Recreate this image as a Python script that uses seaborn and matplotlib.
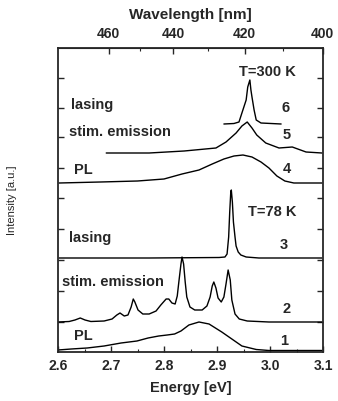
import numpy as np
import pandas as pd
import seaborn as sns
import matplotlib
matplotlib.use("Agg")
import matplotlib.pyplot as plt

# Photon energy (eV) and intensity (a.u., curves stacked with offsets)
pl78_E = [2.600, 2.625, 2.655, 2.687, 2.719, 2.749, 2.770, 2.790, 2.806, 2.820,
          2.832, 2.847, 2.866, 2.885, 2.909, 2.928, 2.947, 2.974, 2.998, 3.098]
pl78_I = [2, 3, 4, 6, 9, 11, 14, 16, 17, 18,
          21, 27, 30, 28, 20, 13, 6, 2.5, 1.5, 1.5]

stim78_E = [2.600, 2.621, 2.632, 2.642, 2.651, 2.662, 2.687, 2.702, 2.711, 2.717,
            2.725, 2.732, 2.738, 2.742, 2.745, 2.751, 2.760, 2.772, 2.785, 2.794,
            2.804, 2.809, 2.815, 2.821, 2.825, 2.828, 2.832, 2.834, 2.837, 2.840,
            2.843, 2.849, 2.858, 2.872, 2.881, 2.887, 2.891, 2.894, 2.898, 2.902,
            2.908, 2.913, 2.917, 2.921, 2.925, 2.928, 2.934, 2.942, 2.957, 2.998,
            3.098]
stim78_I = [30, 30.5, 32, 34, 32, 30.5, 31, 33, 37, 39,
            36, 37, 45, 53, 50, 42, 38, 38, 41, 47,
            53, 53, 49, 48, 56, 70, 88, 95, 88, 70,
            55, 45, 42, 42, 46, 55, 66, 70, 64, 54,
            50, 55, 68, 82, 72, 52, 38, 33, 31, 30,
            30]

las78_E = [2.602, 2.772, 2.904, 2.915, 2.919, 2.922, 2.924, 2.926, 2.927, 2.929,
           2.931, 2.934, 2.936, 2.940, 2.945, 2.955, 2.979, 3.098]
las78_I = [94, 94, 94.5, 95, 98, 115, 140, 160, 162, 150,
           130, 115, 106, 100, 97, 95, 94, 94]

pl300_E = [2.602, 2.680, 2.750, 2.800, 2.834, 2.866, 2.891, 2.913, 2.932, 2.949,
           2.966, 2.983, 2.998, 3.013, 3.028, 3.045, 3.098]
pl300_I = [169, 170, 171, 173, 178, 182, 188, 193, 196, 197,
           195, 190, 184, 176, 171, 169, 169]

stim300_E = [2.691, 2.772, 2.838, 2.898, 2.917, 2.936, 2.947, 2.957, 2.966, 2.975,
             2.992, 3.017, 3.042, 3.068, 3.098]
stim300_I = [199, 199, 201, 204, 210, 219, 226, 230, 224, 217,
             209, 204, 205, 200, 199]

las300_E = [2.913, 2.932, 2.9415, 2.947, 2.955, 2.958, 2.962, 2.964, 2.966, 2.970,
            2.974, 2.983, 3.021]
las300_I = [228, 228.5, 230, 239, 252, 265, 272, 262, 255, 242,
            232, 229, 228]

curve_labels = ["1", "2", "3", "4", "5", "6"]
y_ticks = [30, 61, 92, 123, 154, 184, 215, 244, 274]
energy_ticks = [2.6, 2.7, 2.8, 2.9, 3.0, 3.1]
wavelength_ticks = [460, 440, 420, 400]

sns.set_style("ticks")
plt.rcParams["font.family"] = ["Liberation Sans", "DejaVu Sans"]

fig = plt.figure(figsize=(3.38, 4.01), dpi=100)
ax = fig.add_axes([58 / 338, (401 - 352) / 401, 265 / 338, 304 / 401])

curves = [(pl78_E, pl78_I), (stim78_E, stim78_I), (las78_E, las78_I),
          (pl300_E, pl300_I), (stim300_E, stim300_I), (las300_E, las300_I)]
frames = []
for lab, (e, i) in zip(curve_labels, curves):
    frames.append(pd.DataFrame({"E": e, "I": i, "curve": lab}))
df = pd.concat(frames, ignore_index=True)

for lab in curve_labels:
    sub = df[df["curve"] == lab]
    sns.lineplot(data=sub, x="E", y="I", ax=ax, color="black", lw=1.0,
                 sort=False, estimator=None, legend=False)

ax.set_xlim(2.6, 3.1)
ax.set_ylim(0, 304)
ax.set_xticks(energy_ticks)
ax.set_xticklabels([f"{t:.1f}" for t in energy_ticks], fontsize=10,
                   fontweight="bold")
ax.set_xticks(np.arange(2.65, 3.1, 0.1), minor=True)
ax.set_yticks(y_ticks)
ax.set_yticklabels([])
ax.tick_params(axis="both", which="major", direction="in", length=4,
               width=1.0, right=True)
ax.tick_params(axis="x", which="major", pad=5)
ax.tick_params(axis="x", which="minor", direction="in", length=2, width=0.8)
for s in ax.spines.values():
    s.set_linewidth(1.3)
    s.set_visible(True)

ax.set_xlabel("Energy [eV]", fontsize=10.5, fontweight="bold", labelpad=6)
ax.set_ylabel("Intensity [a.u.]", fontsize=8, labelpad=26)


def e2nm(e):
    e = np.asarray(e, dtype=float)
    with np.errstate(divide="ignore"):
        return 1239.84 / e


top = ax.secondary_xaxis("top", functions=(e2nm, e2nm))
top.set_xticks(wavelength_ticks)
top.set_xticklabels([str(t) for t in wavelength_ticks], fontsize=10,
                    fontweight="bold")
top.set_xticks([450, 430, 410], minor=True)
top.tick_params(axis="x", which="major", direction="in", length=4, width=1.0,
                pad=5)
top.tick_params(axis="x", which="minor", direction="in", length=2, width=0.8)
top.set_xlabel("Wavelength [nm]", fontsize=11, fontweight="bold", labelpad=6)

txt = dict(fontsize=10.5, fontweight="bold", va="center")
ax.text(2.996, 280, "T=300 K", ha="center", **txt)
ax.text(2.6245, 247, "lasing", ha="left", **txt)
ax.text(2.621, 220, "stim. emission", ha="left", **txt)
ax.text(2.630, 182, "PL", ha="left", **txt)
ax.text(3.004, 140, "T=78 K", ha="center", **txt)
ax.text(2.621, 114, "lasing", ha="left", **txt)
ax.text(2.6075, 70, "stim. emission", ha="left", **txt)
ax.text(2.630, 16, "PL", ha="left", **txt)

num_pos = [(3.026, 11), (3.032, 43), (3.026, 107),
           (3.032, 183), (3.032, 217), (3.030, 244)]
for lab, (x, y) in zip(curve_labels, num_pos):
    ax.text(x, y, lab, ha="center", **txt)

fig.savefig("out.png", dpi=100)
